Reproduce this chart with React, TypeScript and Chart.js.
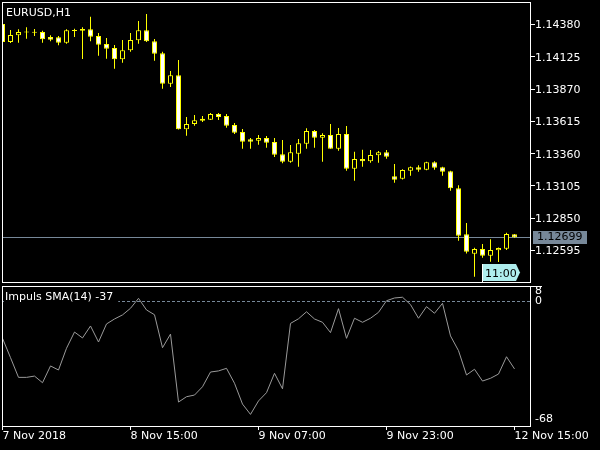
import React, { useEffect, useRef } from "react";
import { Chart, registerables } from "chart.js";

Chart.register(...registerables);

// ---- data ----
const symbolTitle = "EURUSD,H1";

const opens = [
  1.14384, 1.14242, 1.14295, 1.14317, 1.14314, 1.14321, 1.14281, 1.14279, 1.14236, 1.14337,
  1.14344, 1.14342, 1.14289, 1.14226, 1.14194, 1.14105, 1.14176, 1.14255, 1.14334, 1.14247,
  1.14153, 1.13912, 1.13979, 1.13552, 1.13594, 1.13636, 1.13628, 1.13673, 1.13657, 1.13586,
  1.13531, 1.13473, 1.13462, 1.13484, 1.13452, 1.13355, 1.13296, 1.1336, 1.13439, 1.13539,
  1.13486, 1.13507, 1.13399, 1.13515, 1.13241, 1.13318, 1.133, 1.13347, 1.13371, 1.13181,
  1.13162, 1.13225, 1.13252, 1.13233, 1.13292, 1.13252, 1.13221, 1.13086, 1.12723, 1.1257,
  1.12607, 1.12554, 1.12597, 1.12609, 1.12723,
];
const highs = [
  1.14392, 1.14337, 1.14342, 1.14358, 1.14344, 1.14331, 1.14295, 1.14289, 1.14342, 1.14347,
  1.14358, 1.14442, 1.14313, 1.14273, 1.14218, 1.14258, 1.14313, 1.14408, 1.14463, 1.14265,
  1.14165, 1.14013, 1.141, 1.13649, 1.13665, 1.13657, 1.13681, 1.13681, 1.13673, 1.13602,
  1.13555, 1.13484, 1.13507, 1.13499, 1.13484, 1.13468, 1.13428, 1.13476, 1.1356, 1.13547,
  1.13521, 1.13594, 1.13563, 1.13578, 1.13375, 1.13391, 1.13389, 1.13381, 1.13389, 1.13278,
  1.13236, 1.13259, 1.13268, 1.13296, 1.133, 1.13256, 1.13225, 1.1311, 1.12812, 1.12617,
  1.12646, 1.12683, 1.12618, 1.12736, 1.12725,
];
const lows = [
  1.14234, 1.14234, 1.14236, 1.14268, 1.14289, 1.14236, 1.14247, 1.14216, 1.14228, 1.14281,
  1.14108, 1.14247, 1.14134, 1.1411, 1.14031, 1.14078, 1.14165, 1.14228, 1.14242, 1.14094,
  1.13873, 1.13886, 1.1355, 1.13502, 1.13581, 1.1361, 1.13626, 1.13626, 1.13565, 1.13515,
  1.13399, 1.13399, 1.13431, 1.13407, 1.13333, 1.13284, 1.13288, 1.13257, 1.13399, 1.13407,
  1.13296, 1.13399, 1.13383, 1.13225, 1.13146, 1.13257, 1.13288, 1.13288, 1.1332, 1.13131,
  1.13156, 1.13186, 1.13217, 1.13228, 1.13233, 1.13186, 1.13067, 1.12672, 1.12571, 1.12388,
  1.12538, 1.12507, 1.12504, 1.12599, 1.12695,
];
const closes = [
  1.14242, 1.14297, 1.14321, 1.14321, 1.14318, 1.14263, 1.1426, 1.14236, 1.14334, 1.14329,
  1.14331, 1.14284, 1.1422, 1.14189, 1.14105, 1.14176, 1.14258, 1.14334, 1.14247, 1.14149,
  1.13912, 1.13979, 1.13552, 1.13594, 1.13623, 1.1362, 1.13673, 1.13649, 1.13581, 1.13525,
  1.13454, 1.13454, 1.13484, 1.13446, 1.13352, 1.13296, 1.13371, 1.13442, 1.13539, 1.13486,
  1.13507, 1.13399, 1.13515, 1.13241, 1.13318, 1.133, 1.13349, 1.13371, 1.13336, 1.13154,
  1.13231, 1.13252, 1.13233, 1.13292, 1.13249, 1.13217, 1.13086, 1.12712, 1.12586, 1.12607,
  1.12554, 1.12599, 1.12615, 1.12725, 1.12699,
];

const impulsValues = [
  -20.4, -30.9, -41.6, -41.6, -40.9, -44.5, -35.4, -37.6, -25.8, -17.0,
  -20.2, -13.7, -22.4, -12.6, -9.9, -7.7, -4.1, 1.3, -5.0, -7.6,
  -25.5, -18.1, -55.0, -52.1, -51.2, -46.7, -38.7, -38.1, -36.7, -44.8,
  -56.1, -61.7, -54.4, -49.9, -39.4, -47.8, -12.3, -9.8, -6.0, -9.9,
  -11.7, -17.3, -4.3, -20.4, -9.5, -11.7, -9.5, -6.3, 0.0, 1.5,
  1.9, -2.1, -9.5, -3.2, -6.8, -1.4, -19.1, -27.1, -40.3, -37.2,
  -43.6, -42.1, -39.8, -30.4, -37,
];
const indicatorName = "Impuls SMA(14)";
const indicatorAxisLabels = [8, 0, -68];
const indicatorLevel = 0;

const priceTicks = [1.1438, 1.14125, 1.1387, 1.13615, 1.1336, 1.13105, 1.1285, 1.12595];
const currentPrice = 1.12699;

const timeTickIndex = [0, 16, 32, 48, 64];
const timeLabels = ["7 Nov 2018", "8 Nov 15:00", "9 Nov 07:00", "9 Nov 23:00", "12 Nov 15:00"];
const markerIndex = 60;
const markerLabel = "11:00";

// ---- view ranges ----
const X_MIN = -0.0625;
const X_MAX = 65.9375;
const PRICE_MIN = 1.123462;
const PRICE_MAX = 1.145577;
const IND_MIN = -68;
const IND_MAX = 8;

const FONT = '11px "DejaVu Sans"';
const YELLOW = "#ffff00";
const SLATE = "#778899";

const mainDecor = {
  id: "mainDecor",
  beforeDatasetsDraw(chart: any) {
    const { ctx, chartArea: a, scales } = chart;
    const py = Math.round(scales.y.getPixelForValue(currentPrice)) + 0.5;
    ctx.save();
    ctx.strokeStyle = SLATE;
    ctx.lineWidth = 1;
    ctx.beginPath();
    ctx.moveTo(a.left, py);
    ctx.lineTo(a.right, py);
    ctx.stroke();
    ctx.restore();
  },
  afterDraw(chart: any) {
    const { ctx, chartArea: a, scales } = chart;
    ctx.save();
    // frame
    ctx.strokeStyle = "#ffffff";
    ctx.lineWidth = 1;
    ctx.strokeRect(a.left + 0.5, a.top + 0.5, a.right - a.left, a.bottom - a.top);
    // title
    ctx.fillStyle = "#ffffff";
    ctx.font = FONT;
    ctx.textBaseline = "alphabetic";
    ctx.textAlign = "left";
    ctx.fillText(symbolTitle, a.left + 4, a.top + 14);
    // current price label
    const py = Math.round(scales.y.getPixelForValue(currentPrice)) + 0.5;
    ctx.fillStyle = SLATE;
    ctx.fillRect(a.right + 3, Math.round(py - 7), 54, 13);
    ctx.fillStyle = "#000000";
    ctx.textBaseline = "middle";
    ctx.fillText(currentPrice.toFixed(5), a.right + 7, py);
    // time marker
    const bx = Math.floor(scales.x.getPixelForValue(markerIndex));
    const top = a.bottom - 18;
    const bot = a.bottom - 1;
    ctx.fillStyle = "#afeeee";
    ctx.beginPath();
    ctx.moveTo(bx, top);
    ctx.lineTo(bx + 34, top);
    ctx.lineTo(bx + 38, (top + bot) / 2);
    ctx.lineTo(bx + 34, bot);
    ctx.lineTo(bx, bot);
    ctx.closePath();
    ctx.fill();
    ctx.strokeStyle = "#ffffff";
    ctx.beginPath();
    ctx.moveTo(bx + 0.5, top);
    ctx.lineTo(bx + 0.5, a.bottom);
    ctx.stroke();
    ctx.fillStyle = "#000000";
    ctx.textBaseline = "alphabetic";
    ctx.fillText(markerLabel, bx + 3, bot - 4);
    ctx.restore();
  },
};

const indDecor = {
  id: "indDecor",
  beforeDatasetsDraw(chart: any) {
    const { ctx, chartArea: a, scales } = chart;
    const ly = Math.round(scales.y.getPixelForValue(indicatorLevel)) + 0.5;
    ctx.save();
    ctx.strokeStyle = SLATE;
    ctx.lineWidth = 1;
    ctx.setLineDash([3, 2]);
    ctx.beginPath();
    ctx.moveTo(a.left, ly);
    ctx.lineTo(a.right, ly);
    ctx.stroke();
    ctx.restore();
  },
  afterDraw(chart: any) {
    const { ctx, chartArea: a, scales } = chart;
    ctx.save();
    ctx.strokeStyle = "#ffffff";
    ctx.lineWidth = 1;
    ctx.strokeRect(a.left + 0.5, a.top + 0.5, a.right - a.left, a.bottom - a.top);
    // top tick
    ctx.beginPath();
    ctx.moveTo(a.right, a.top + 0.5);
    ctx.lineTo(a.right + 12, a.top + 0.5);
    ctx.stroke();
    // label with background
    ctx.font = FONT;
    const label = `${indicatorName} ${impulsValues[impulsValues.length - 1]}`;
    const w = ctx.measureText(label).width;
    ctx.fillStyle = "#000000";
    ctx.fillRect(a.left + 2, a.top + 2, w + 6, 16);
    ctx.fillStyle = "#ffffff";
    ctx.textAlign = "left";
    ctx.textBaseline = "alphabetic";
    ctx.fillText(label, a.left + 3, a.top + 14);
    // axis labels
    ctx.textBaseline = "middle";
    for (const v of indicatorAxisLabels) {
      let yc = scales.y.getPixelForValue(v);
      yc = Math.min(Math.max(yc, a.top + 5), a.bottom - 7);
      ctx.fillText(String(v), a.right + 5, yc + 0.5);
    }
    ctx.restore();
  },
};

export default function App() {
  const mainRef = useRef<HTMLCanvasElement>(null);
  const indRef = useRef<HTMLCanvasElement>(null);

  useEffect(() => {
    const bodyData = opens.map((o, i) => ({ x: i, y: [o, closes[i]] }));
    const wickData = lows.map((l, i) => ({ x: i, y: [l, highs[i]] }));
    const bodyFill = opens.map((o, i) => (closes[i] < o ? "#ffffff" : "#000000"));

    const main = new Chart(mainRef.current as HTMLCanvasElement, {
      type: "bar",
      data: {
        datasets: [
          {
            data: bodyData as any,
            backgroundColor: bodyFill,
            borderColor: YELLOW,
            borderWidth: 1,
            borderSkipped: false,
            barThickness: 5,
            minBarLength: 1,
            inflateAmount: 0,
            grouped: false,
            order: 0,
            clip: 0,
          } as any,
          {
            data: wickData as any,
            backgroundColor: YELLOW,
            borderWidth: 0,
            barThickness: 1,
            inflateAmount: 0,
            grouped: false,
            order: 1,
            clip: 0,
          } as any,
        ],
      },
      options: {
        animation: false,
        responsive: false,
        maintainAspectRatio: false,
        events: [],
        layout: { padding: { left: 2, top: 2, right: 0, bottom: 2 } },
        plugins: { legend: { display: false }, tooltip: { enabled: false } },
        scales: {
          x: {
            type: "linear",
            min: X_MIN,
            max: X_MAX,
            offset: false,
            display: false,
            grid: { offset: false },
          },
          y: {
            position: "right",
            min: PRICE_MIN,
            max: PRICE_MAX,
            afterFit: (s: any) => {
              s.width = 70;
              s.paddingTop = 0;
              s.paddingBottom = 0;
            },
            afterBuildTicks: (s: any) => {
              s.ticks = priceTicks.map((v) => ({ value: v }));
            },
            grid: { drawOnChartArea: false, drawTicks: true, tickLength: 5, color: "#ffffff" },
            border: { display: true, color: "#ffffff" },
            ticks: {
              color: "#ffffff",
              font: { family: "DejaVu Sans", size: 11 },
              padding: 0,
              labelOffset: 1,
              autoSkip: false,
              callback: (v: any) => Number(v).toFixed(5),
            },
          },
        },
      } as any,
      plugins: [mainDecor],
    });

    const ind = new Chart(indRef.current as HTMLCanvasElement, {
      type: "line",
      data: {
        datasets: [
          {
            data: impulsValues.map((v, i) => ({ x: i, y: v })) as any,
            borderColor: "#9a9a9a",
            borderWidth: 1,
            pointRadius: 0,
            fill: false,
            tension: 0,
            clip: 0,
          } as any,
        ],
      },
      options: {
        animation: false,
        responsive: false,
        maintainAspectRatio: false,
        events: [],
        layout: { padding: { left: 2, top: 2, right: 0, bottom: 0 } },
        plugins: { legend: { display: false }, tooltip: { enabled: false } },
        scales: {
          x: {
            type: "linear",
            min: X_MIN,
            max: X_MAX,
            offset: false,
            position: "bottom",
            afterBuildTicks: (s: any) => {
              s.ticks = timeTickIndex.map((v) => ({ value: v }));
            },
            afterFit: (s: any) => {
              s.height = 24;
              s.paddingLeft = 0;
            },
            grid: { drawOnChartArea: false, drawTicks: true, tickLength: 4, color: "#ffffff" },
            border: { display: true, color: "#ffffff" },
            ticks: {
              autoSkip: false,
              maxRotation: 0,
              minRotation: 0,
              align: "start",
              padding: 0,
              color: "#ffffff",
              font: { family: "DejaVu Sans", size: 11 },
              callback: (_v: any, idx: number) => timeLabels[idx],
            },
          },
          y: {
            position: "right",
            min: IND_MIN,
            max: IND_MAX,
            afterFit: (s: any) => {
              s.width = 70;
              s.paddingTop = 0;
              s.paddingBottom = 0;
            },
            ticks: { display: false },
            grid: { display: false },
            border: { display: true, color: "#ffffff" },
          },
        },
      } as any,
      plugins: [indDecor],
    });

    return () => {
      main.destroy();
      ind.destroy();
    };
  }, []);

  return (
    <div
      style={{
        position: "fixed",
        left: 0,
        top: 0,
        width: 600,
        height: 450,
        background: "#000000",
        overflow: "hidden",
      }}
    >
      <canvas
        ref={mainRef}
        width={600}
        height={284}
        style={{ position: "absolute", left: 0, top: 0, width: 600, height: 284 }}
      />
      <canvas
        ref={indRef}
        width={600}
        height={166}
        style={{ position: "absolute", left: 0, top: 284, width: 600, height: 166 }}
      />
    </div>
  );
}
